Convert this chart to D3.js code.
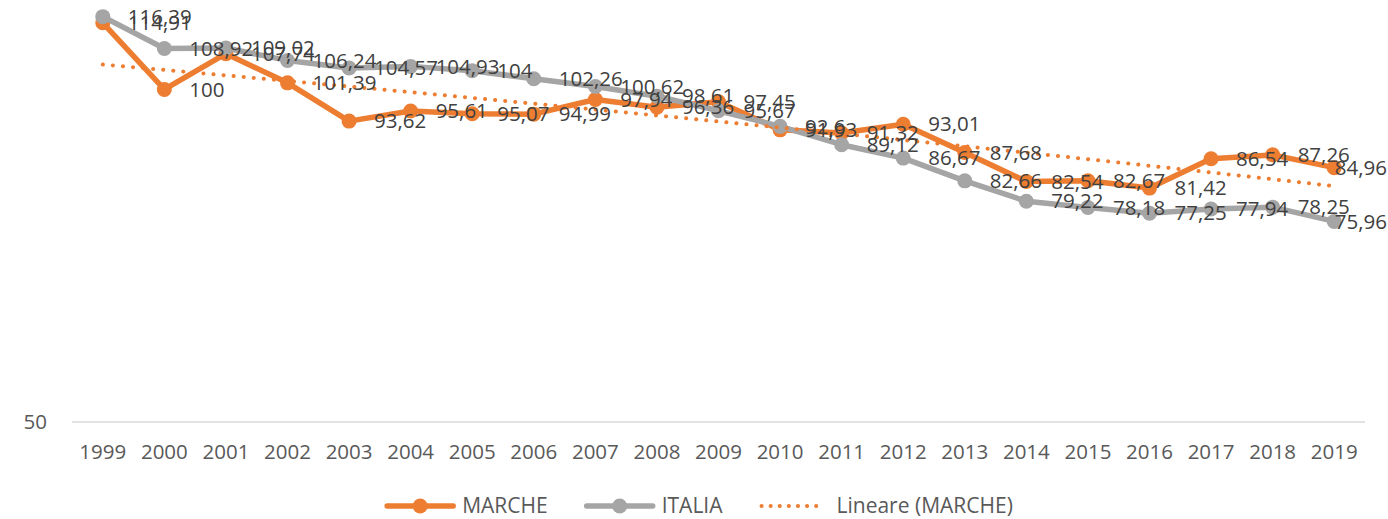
<!DOCTYPE html>
<html>
<head>
<meta charset="utf-8">
<script src="https://cdn.jsdelivr.net/npm/d3@7"></script>
<style>
  html, body { margin: 0; padding: 0; background: #fff; }
  svg { display: block; font-family: "Open Sans", "Liberation Sans", sans-serif; }
</style>
</head>
<body>
<svg id="chart" width="1388" height="519"></svg>
<script>
const years = ['1999', '2000', '2001', '2002', '2003', '2004', '2005', '2006', '2007', '2008', '2009',
    '2010', '2011', '2012', '2013', '2014', '2015', '2016', '2017', '2018', '2019'];
const marche = [114.91, 100, 107.74, 101.39, 93.62, 95.61, 95.07, 94.99, 97.94, 96.36, 97.45,
    91.93, 91.32, 93.01, 87.68, 82.54, 82.67, 81.42, 86.54, 87.26, 84.96];
const italia = [116.39, 108.92, 109.02, 106.24, 104.57, 104.93, 104, 102.26, 100.62, 98.61, 95.67,
    92.6, 89.12, 86.67, 82.66, 79.22, 78.18, 77.25, 77.94, 78.25, 75.96];
const yTicks = [50];
const legendNames = ['MARCHE', 'ITALIA', 'Lineare (MARCHE)'];

const width = 1388;
const fontSize = 20.5;
const orange = '#ED7D31';
const grey = '#A5A5A5';

const svg = d3.select('#chart');

const x = d3.scaleBand().domain(years).range([72, 1365]);
const cx = (i) => x(years[i]) + x.bandwidth() / 2;
// the value axis is logarithmic, starting at 50
const y = d3.scaleLog().domain([50, 120]).range([422, 2]);

// gridline + y tick label
svg.append('g')
    .selectAll('line')
    .data(yTicks)
    .enter()
    .append('line')
    .attr('x1', 72)
    .attr('x2', 1365)
    .attr('y1', (d) => y(d))
    .attr('y2', (d) => y(d))
    .attr('stroke', '#D9D9D9')
    .attr('stroke-width', 1.5);

svg.append('g')
    .selectAll('text')
    .data(yTicks)
    .enter()
    .append('text')
    .attr('x', 47)
    .attr('y', (d) => y(d))
    .attr('dy', '0.35em')
    .attr('text-anchor', 'end')
    .attr('font-size', fontSize)
    .attr('fill', '#595959')
    .text((d) => d);

// category axis
const xAxis = svg.append('g')
    .attr('transform', 'translate(0,422)')
    .call(d3.axisBottom(x).tickSize(0).tickPadding(22));
xAxis.select('.domain').remove();
xAxis.selectAll('text')
    .attr('font-size', fontSize)
    .attr('font-family', '"Open Sans", sans-serif')
    .attr('fill', '#595959');

// linear trendline of MARCHE (least squares on the category index)
const n = marche.length;
const meanX = d3.mean(marche, (d, i) => i);
const meanY = d3.mean(marche);
const slope = d3.sum(marche, (d, i) => (i - meanX) * (d - meanY)) /
    d3.sum(marche, (d, i) => (i - meanX) * (i - meanX));
const icpt = meanY - slope * meanX;
const trendPts = d3.range(0, (n - 1) * 10 + 1).map((k) => k / 10);

const line = d3.line()
    .x((d, i) => cx(i))
    .y((d) => y(d));

function drawSeries(values, color) {
    svg.append('path')
        .datum(values)
        .attr('fill', 'none')
        .attr('stroke', color)
        .attr('stroke-width', 5.5)
        .attr('stroke-linejoin', 'round')
        .attr('stroke-linecap', 'round')
        .attr('d', line);
    svg.append('g')
        .selectAll('circle')
        .data(values)
        .enter()
        .append('circle')
        .attr('cx', (d, i) => cx(i))
        .attr('cy', (d) => y(d))
        .attr('r', 7.5)
        .attr('fill', color);
}

drawSeries(marche, orange);
drawSeries(italia, grey);

const xCont = d3.scaleLinear().domain([0, n - 1]).range([cx(0), cx(n - 1)]);
svg.append('path')
    .datum(trendPts)
    .attr('fill', 'none')
    .attr('stroke', orange)
    .attr('stroke-width', 4)
    .attr('stroke-linecap', 'round')
    .attr('stroke-dasharray', '0.1 10')
    .attr('d', d3.line().x((t) => xCont(t)).y((t) => y(icpt + slope * t)));

// data labels, to the right of each point
const fmt = (v) => String(v).replace('.', ',');

function drawLabels(values) {
    const g = svg.append('g');
    g.selectAll('text')
        .data(values)
        .enter()
        .append('text')
        .attr('y', (d) => y(d))
        .attr('dy', '0.35em')
        .attr('font-size', fontSize)
        .attr('fill', '#404040')
        .text((d) => fmt(d))
        .attr('x', function (d, i) {
            const w = this.getComputedTextLength();
            return Math.min(cx(i) + 25, width - 1 - w);
        });
}

drawLabels(marche);
drawLabels(italia);

// legend
const legend = svg.append('g');
const items = [
    { name: legendNames[0], color: orange, type: 'marker' },
    { name: legendNames[1], color: grey, type: 'marker' },
    { name: legendNames[2], color: orange, type: 'dots' }
];
let lx = 0;
items.forEach((it) => {
    const g = legend.append('g').attr('transform', `translate(${lx},0)`);
    if (it.type === 'marker') {
        g.append('line')
            .attr('x1', 2).attr('x2', 68).attr('y1', 0).attr('y2', 0)
            .attr('stroke', it.color).attr('stroke-width', 5.5)
            .attr('stroke-linecap', 'round');
        g.append('circle').attr('cx', 35).attr('cy', 0).attr('r', 7.5).attr('fill', it.color);
    } else {
        g.append('line')
            .attr('x1', 2).attr('x2', 64).attr('y1', 0).attr('y2', 0)
            .attr('stroke', it.color).attr('stroke-width', 4)
            .attr('stroke-linecap', 'round')
            .attr('stroke-dasharray', '0.1 9');
    }
    const t = g.append('text')
        .attr('x', 77)
        .attr('dy', '0.35em')
        .attr('font-size', 21)
        .attr('fill', '#595959')
        .text(it.name);
    lx += 77 + t.node().getComputedTextLength() + 37;
});
const legendW = lx - 37;
legend.attr('transform', `translate(${699 - legendW / 2},506)`);
</script>
</body>
</html>
